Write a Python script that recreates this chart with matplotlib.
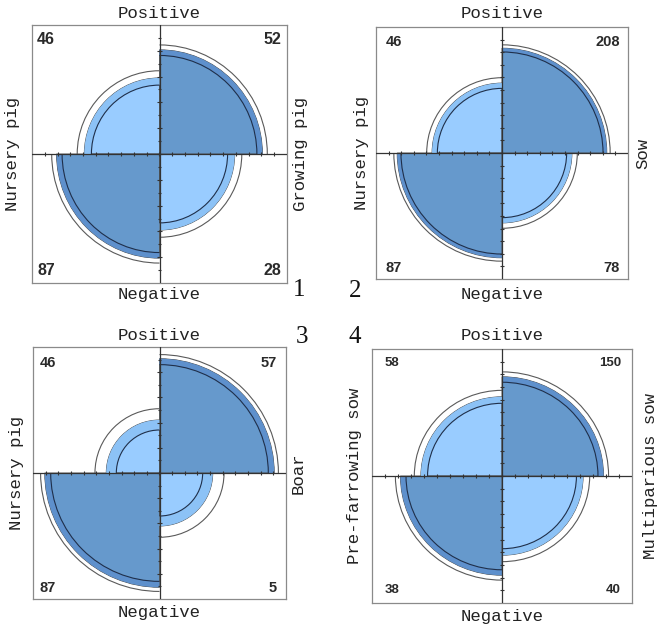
import numpy as np
import matplotlib
matplotlib.use('Agg')
import matplotlib.pyplot as plt
from matplotlib.patches import Wedge, Arc

# counts of the four 2x2 tables (rows: Positive/Negative, cols: left/right group)
pos_left = [46, 46, 46, 58]
pos_right = [52, 208, 57, 150]
neg_left = [87, 87, 87, 38]
neg_right = [28, 78, 5, 40]
left_names = ['Nursery pig', 'Nursery pig', 'Nursery pig', 'Pre-farrowing sow']
right_names = ['Growing pig', 'Sow', 'Boar', 'Multiparious sow']
panel_ids = ['1', '2', '3', '4']

# fourfoldplot colours (light / dark) plus the slightly darker ring band
light, dark = '#99CCFF', '#6699CC'
light_band, dark_band = '#8CC2F6', '#5E90CC'

W, H = 665, 631
fig = plt.figure(figsize=(W / 100, H / 100), dpi=100)

# panel boxes in pixels: left, top, right, bottom
boxes = [(32, 25, 287, 283), (376, 27, 628, 279), (33, 347, 286, 599), (372, 349, 632, 603)]
# gaps for the outside labels: top, bottom, left, right
gaps = [(12, 11, 19, 14), (13, 15, 14, 15), (11, 14, 16, 12), (14, 13, 17, 18)]
# insets of the count labels: left, right, top, bottom
insets = [(5, 6, 15, 13), (10, 8, 15, 11), (7, 9, 16, 11), (13, 11, 14, 13)]
count_sizes = [11.5, 10.5, 10.5, 9.5]
id_pos = [(299, 290), (355, 291), (302, 337), (355, 337)]

label_font = 'Liberation Mono'


def radii(odds):
    u = np.sqrt(odds) / (1 + np.sqrt(odds))
    return np.sqrt(u), np.sqrt(1 - u)


def ftext(x, y, s, **kw):
    fig.text(x / W, 1 - y / H, s, **kw)


for i in range(4):
    a, b, c, d = pos_left[i], pos_right[i], neg_left[i], neg_right[i]
    odds = a * d / (b * c)
    se = np.sqrt(1 / a + 1 / b + 1 / c + 1 / d)
    lo = np.exp(np.log(odds) - 1.96 * se)
    hi = np.exp(np.log(odds) + 1.96 * se)
    r_diag, r_off = radii(odds)
    lo_diag, lo_off = radii(lo)
    hi_diag, hi_off = radii(hi)

    L, T, R, B = boxes[i]
    ax = fig.add_axes([L / W, 1 - B / H, (R - L) / W, (B - T) / H])
    ax.set_xlim(-1, 1)
    ax.set_ylim(-1, 1)
    ax.set_xticks([])
    ax.set_yticks([])
    for sp in ax.spines.values():
        sp.set_color('#8a8a8a')
        sp.set_linewidth(0.9)

    diag_col = dark if odds > 1 else light
    off_col = light if odds > 1 else dark
    band = {dark: dark_band, light: light_band}

    quads = [
        (90, 180, r_diag, sorted([lo_diag, hi_diag]), diag_col),
        (270, 360, r_diag, sorted([lo_diag, hi_diag]), diag_col),
        (0, 90, r_off, sorted([lo_off, hi_off]), off_col),
        (180, 270, r_off, sorted([lo_off, hi_off]), off_col),
    ]
    for t1, t2, r, (rl, rh), col in quads:
        ax.add_patch(Wedge((0, 0), r, t1, t2, facecolor=col, edgecolor='#4a4a4a',
                           linewidth=0.6, zorder=1))
        ax.add_patch(Wedge((0, 0), r, t1, t2, width=r - rl, facecolor=band[col],
                           edgecolor='none', zorder=1.5))
        ax.add_patch(Arc((0, 0), 2 * rl, 2 * rl, theta1=t1, theta2=t2,
                         color='#1f2f4a', linewidth=0.8, zorder=2))
        ax.add_patch(Arc((0, 0), 2 * rh, 2 * rh, theta1=t1, theta2=t2,
                         color='#5a5a5a', linewidth=0.8, zorder=2))

    # axes through the centre with small ticks
    ax.plot([-1, 1], [0, 0], color='#333333', linewidth=0.9, zorder=3)
    ax.plot([0, 0], [-1, 1], color='#333333', linewidth=0.9, zorder=3)
    major = np.arange(-0.8, 0.81, 0.2)
    minor = np.arange(-0.9, 0.91, 0.2)
    ax.vlines(major, -0.018, 0.018, color='#333333', linewidth=0.8, zorder=3)
    ax.vlines(minor, -0.013, 0.013, color='#333333', linewidth=0.8, zorder=3)
    ax.hlines(major, -0.018, 0.018, color='#333333', linewidth=0.8, zorder=3)
    ax.hlines(minor, -0.013, 0.013, color='#333333', linewidth=0.8, zorder=3)

    # outside labels
    gt, gb, gl, gr = gaps[i]
    cx, cy = (L + R) / 2, (T + B) / 2
    ftext(cx, T - gt, 'Positive', ha='center', va='center', fontsize=12.5,
          family=label_font, color='#222222')
    ftext(cx, B + gb, 'Negative', ha='center', va='center', fontsize=12.5,
          family=label_font, color='#222222')
    ftext(L - gl, cy, left_names[i], ha='center', va='center', rotation=90,
          fontsize=12.5, family=label_font, color='#222222')
    ftext(R + gr, cy, right_names[i], ha='center', va='center', rotation=90,
          fontsize=12.5, family=label_font, color='#222222')

    # cell counts
    il, ir, it, ib = insets[i]
    ck = dict(fontsize=count_sizes[i], family='Liberation Sans', weight='bold', color='#2a2a2a')
    ftext(L + il, T + it, str(a), ha='left', va='center', **ck)
    ftext(R - ir, T + it, str(b), ha='right', va='center', **ck)
    ftext(L + il, B - ib, str(c), ha='left', va='center', **ck)
    ftext(R - ir, B - ib, str(d), ha='right', va='center', **ck)

    # panel number
    ftext(id_pos[i][0], id_pos[i][1], panel_ids[i], ha='center', va='center',
          fontsize=18, family='Liberation Serif', color='#111111')

fig.savefig('out.png', dpi=100)
